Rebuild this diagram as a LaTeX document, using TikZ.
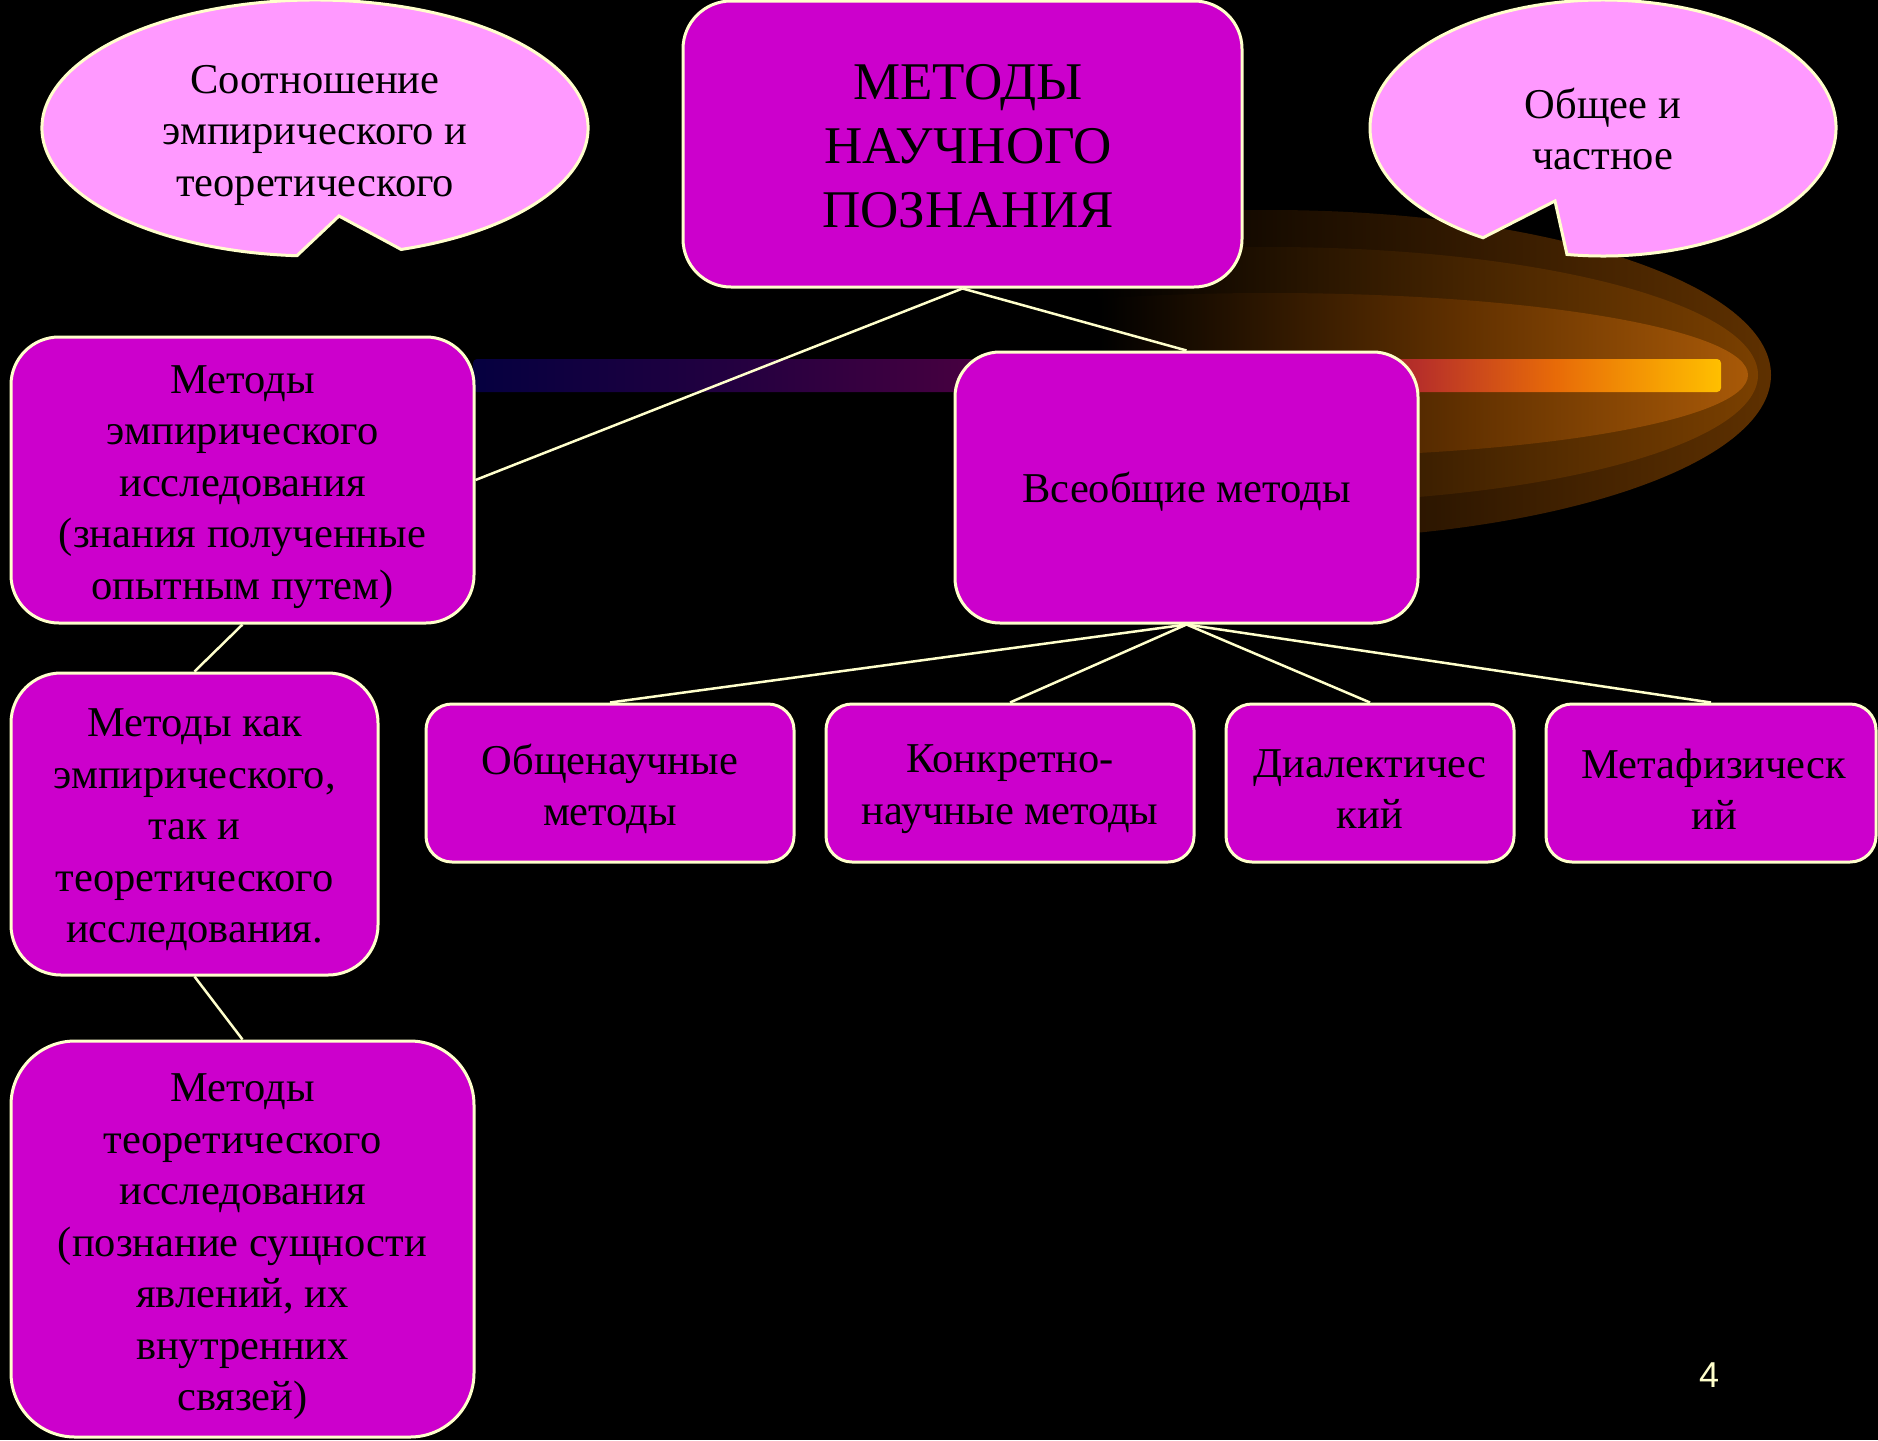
\documentclass[tikz,border=0pt]{standalone}
\usepackage{fontspec}
\setmainfont{Liberation Serif}
\newfontfamily\numfont{Liberation Sans}
\definecolor{boxfill}{HTML}{CC00CC}
\definecolor{callfill}{HTML}{FF99FF}
\definecolor{ln}{HTML}{FFFFCC}
\pgfdeclarehorizontalshading{barshade}{100bp}{rgb(0bp)=(0.02,0,0.25); rgb(25bp)=(0.02,0,0.25); rgb(34.8bp)=(0.13,0,0.25); rgb(44.5bp)=(0.27,0,0.25); rgb(55bp)=(0.40,0.02,0.20); rgb(63bp)=(0.72,0.19,0.16); rgb(68.4bp)=(0.91,0.42,0.03); rgb(75bp)=(1,0.75,0); rgb(100bp)=(1,0.75,0)}
\pgfdeclarehorizontalshading{glowA}{100bp}{rgb(0bp)=(0,0,0); rgb(25bp)=(0,0,0); rgb(41bp)=(0,0,0); rgb(60bp)=(0.20,0.10,0); rgb(75bp)=(0.37,0.19,0); rgb(100bp)=(0.37,0.19,0)}
\pgfdeclarehorizontalshading{glowB}{100bp}{rgb(0bp)=(0,0,0); rgb(25bp)=(0,0,0); rgb(41bp)=(0,0,0); rgb(60bp)=(0.27,0.14,0); rgb(75bp)=(0.48,0.25,0); rgb(100bp)=(0.48,0.25,0)}
\pgfdeclarehorizontalshading{glowC}{100bp}{rgb(0bp)=(0,0,0); rgb(25bp)=(0,0,0); rgb(41bp)=(0,0,0); rgb(60bp)=(0.38,0.19,0); rgb(75bp)=(0.66,0.35,0.03); rgb(100bp)=(0.66,0.35,0.03)}
\tikzset{
  pbox/.style={draw=ln, line width=3pt, fill=boxfill, rectangle, inner sep=0pt},
  btext/.style={align=center, text=black, inner sep=0pt, font=\fontsize{42.5}{51.5}\selectfont},
  conn/.style={draw=ln, line width=2.5pt},
  callout/.style={fill=callfill, draw=ln, line width=3pt}
}
\begin{document}
\begin{tikzpicture}[x=1pt,y=-1pt]
\fill[black] (0,0) rectangle (1878,1440);
\useasboundingbox (0,0) rectangle (1878,1440);
% glow
\path[shading=glowA] (1270,375) ellipse [x radius=501, y radius=165];
\path[shading=glowB] (1270,375) ellipse [x radius=488, y radius=128];
\path[shading=glowC] (1270,375) ellipse [x radius=478, y radius=82];
\path[shading=barshade, rounded corners=4pt] (473,359) rectangle (1721,392);
% callouts
\path[callout] (315,128) ++(71.6:273 and 128) arc[start angle=71.6, end angle=-266.2, x radius=273, y radius=128] -- (339,216) -- cycle;
\node[btext] (callL) at (315,135) {Соотношение\\эмпирического и\\теоретического};
\path[callout] (1603,128) ++(98.9:233 and 128) arc[start angle=98.9, end angle=-239, x radius=233, y radius=128] -- (1555,201) -- cycle;
\node[btext] (callR) at (1603,129) {Общее и\\частное};
% boxes
\node[pbox, minimum width=559pt, minimum height=286pt, rounded corners=48pt] (top) at (962.5,144) {};
\node[btext, font=\fontsize{53}{64}\selectfont] (topT) at (968,146) {МЕТОДЫ\\НАУЧНОГО\\ПОЗНАНИЯ};
\node[pbox, minimum width=463pt, minimum height=286pt, rounded corners=48pt] (emp) at (242.5,480) {};
\node[btext] (empT) at (242.5,487) {Методы\\эмпирического\\исследования\\(знания полученные\\опытным путем)};
\node[pbox, minimum width=463pt, minimum height=271pt, rounded corners=45pt] (univ) at (1186.5,487.5) {};
\node[btext] (univT) at (1186.5,492) {Всеобщие методы};
\node[pbox, minimum width=367pt, minimum height=302pt, rounded corners=50pt] (both) at (194.5,824) {};
\node[btext] (bothT) at (194.5,830) {Методы как\\эмпирического,\\так и\\теоретического\\исследования.};
\node[pbox, minimum width=463pt, minimum height=396pt, rounded corners=64pt] (theo) at (242.5,1239) {};
\node[btext] (theoT) at (242.5,1247) {Методы\\теоретического\\исследования\\(познание сущности\\явлений, их\\внутренних\\связей)};
\node[pbox, minimum width=368pt, minimum height=158pt, rounded corners=26pt] (gen) at (610,783) {};
\node[btext] (genT) at (610,789) {Общенаучные\\методы};
\node[pbox, minimum width=368pt, minimum height=158pt, rounded corners=26pt] (conc) at (1010,783) {};
\node[btext] (concT) at (1010,789) {Конкретно-\\научные методы};
\node[pbox, minimum width=288pt, minimum height=158pt, rounded corners=26pt] (dial) at (1370,783) {};
\node[btext] (dialT) at (1370,789) {Диалектичес\\кий};
\node[pbox, minimum width=330pt, minimum height=158pt, rounded corners=26pt] (meta) at (1711,783) {};
\node[btext] (metaT) at (1714,789) {Метафизическ\\ий};
% connectors
\draw[conn] (top.south) -- (emp.east);
\draw[conn] (top.south) -- (univ.north);
\draw[conn] (univ.south) -- (gen.north);
\draw[conn] (univ.south) -- (conc.north);
\draw[conn] (univ.south) -- (dial.north);
\draw[conn] (univ.south) -- (meta.north);
\draw[conn] (emp.south) -- (both.north);
\draw[conn] (both.south) -- (theo.north);
% page number
\node[text=ln, font=\numfont\fontsize{36}{40}\selectfont, inner sep=0pt] (num) at (1709,1375) {4};
\end{tikzpicture}
\end{document}
